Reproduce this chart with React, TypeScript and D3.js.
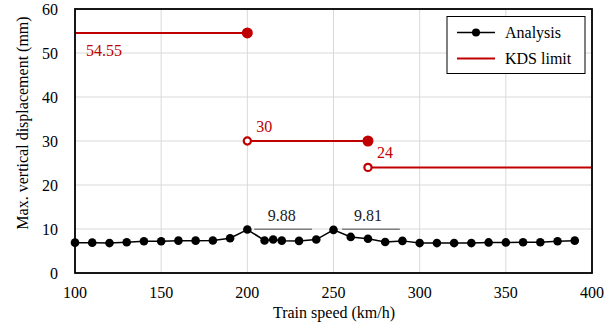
import React from "react";
import { scaleLinear, line, range } from "d3";

const speeds = [100, 110, 120, 130, 140, 150, 160, 170, 180, 190, 200, 210, 215, 220, 230, 240, 250, 260, 270, 280, 290, 300, 310, 320, 330, 340, 350, 360, 370, 380, 390];
const displacement = [6.9, 6.9, 6.8, 7.0, 7.2, 7.2, 7.35, 7.35, 7.4, 7.9, 9.88, 7.4, 7.6, 7.35, 7.3, 7.6, 9.81, 8.2, 7.8, 7.05, 7.3, 6.8, 6.8, 6.8, 6.8, 6.95, 6.95, 7.0, 7.0, 7.2, 7.35];

// KDS limit segments
const limitFrom = [100, 200, 270];
const limitTo = [200, 270, 400];
const limitValue = [54.55, 30, 24];
const limitLabel = ["54.55", "30", "24"];
// marker type at segment ends
const startOpen = [false, true, true];
const endFilled = [true, true, false];

// peak annotations
const peakLabel = ["9.88", "9.81"];
const peakFrom = [204, 255];
const peakTo = [237.5, 288.5];
const peakAt = [220, 270];

const xTicks = range(100, 401, 50);
const yTicks = range(0, 61, 10);

const RED = "#c00000";
const FONT = "'Liberation Serif', 'Times New Roman', 'DejaVu Serif', serif";

const T = (props: any) => <text fontSize={16} {...props} />;

export default function App() {
  const width = 615;
  const height = 327;
  const m = { left: 75, right: 23, top: 9, bottom: 54 };
  const x = scaleLinear().domain([100, 400]).range([m.left, width - m.right]);
  const y = scaleLinear().domain([0, 60]).range([height - m.bottom, m.top]);
  const path = line<number>()
    .x((_, i) => x(speeds[i]))
    .y((d) => y(d));

  return (
    <svg width={width} height={height} style={{ position: "absolute", left: 0, top: 0 }}>
      <style>{`text { font-family: ${FONT}; }`}</style>
      <rect width={width} height={height} fill="#fff" />
      {/* grid */}
      {xTicks.map((t) => (
        <line key={"gx" + t} x1={x(t)} x2={x(t)} y1={y(0)} y2={y(60)} stroke="#d9d9d9" strokeWidth={1} />
      ))}
      {yTicks.map((t) => (
        <line key={"gy" + t} x1={x(100)} x2={x(400)} y1={y(t)} y2={y(t)} stroke="#d9d9d9" strokeWidth={1} />
      ))}
      {/* tick labels */}
      {xTicks.map((t) => (
        <T key={"tx" + t} x={x(t)} y={298} textAnchor="middle" fill="#000">{t}</T>
      ))}
      {yTicks.map((t) => (
        <T key={"ty" + t} x={x(100) - 17} y={y(t) + 5.5} textAnchor="end" fill="#000">{t}</T>
      ))}
      <T x={334} y={318} textAnchor="middle">Train speed (km/h)</T>
      <T transform="translate(28,123) rotate(-90)" textAnchor="middle">Max. vertical displacement (mm)</T>

      {/* KDS limit */}
      {limitValue.map((v, i) => (
        <g key={"lim" + i}>
          <line x1={x(limitFrom[i])} x2={x(limitTo[i])} y1={y(v)} y2={y(v)} stroke={RED} strokeWidth={2} />
          {startOpen[i] && (
            <circle cx={x(limitFrom[i])} cy={y(v)} r={3.6} fill="#fff" stroke={RED} strokeWidth={2.2} />
          )}
          {endFilled[i] && <circle cx={x(limitTo[i])} cy={y(v)} r={5.5} fill={RED} />}
        </g>
      ))}
      <T x={86} y={56} fill={RED}>{limitLabel[0]}</T>
      <T x={x(200) + 9} y={y(30) - 9} fill={RED}>{limitLabel[1]}</T>
      <T x={x(270) + 9} y={y(24) - 9} fill={RED}>{limitLabel[2]}</T>

      {/* peak annotations */}
      {peakLabel.map((l, i) => (
        <g key={"pk" + i}>
          <line x1={x(peakFrom[i])} x2={x(peakTo[i])} y1={y(9.92)} y2={y(9.92)} stroke="#7f7f7f" strokeWidth={1.5} />
          <T x={x(peakAt[i])} y={221} textAnchor="middle" fill="#1a1a1a">{l}</T>
        </g>
      ))}

      {/* analysis */}
      <path d={path(displacement) || ""} fill="none" stroke="#000" strokeWidth={1.5} />
      {displacement.map((d, i) => (
        <circle key={"p" + i} cx={x(speeds[i])} cy={y(d)} r={4.3} fill="#000" />
      ))}

      {/* frame */}
      <rect x={x(100)} y={y(60)} width={x(400) - x(100)} height={y(0) - y(60)} fill="none" stroke="#000" strokeWidth={1.8} />

      {/* legend */}
      <g>
        <rect x={447} y={16.5} width={138} height={57} fill="#fff" stroke="#000" strokeWidth={1} />
        <line x1={457} x2={495} y1={32.5} y2={32.5} stroke="#000" strokeWidth={1.5} />
        <circle cx={476} cy={32.5} r={4} fill="#000" />
        <T x={505} y={38}>Analysis</T>
        <line x1={457} x2={495} y1={58.5} y2={58.5} stroke={RED} strokeWidth={2} />
        <T x={505} y={64}>KDS limit</T>
      </g>
    </svg>
  );
}
